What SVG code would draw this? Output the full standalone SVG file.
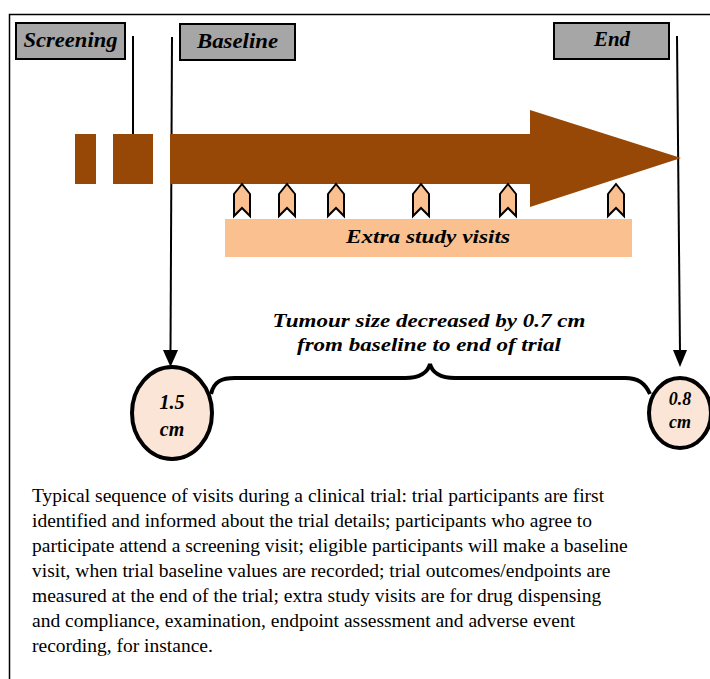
<svg xmlns="http://www.w3.org/2000/svg" width="710" height="679" viewBox="0 0 710 679">
<style>
.lbl{font-family:"Liberation Serif",serif;font-weight:bold;font-style:italic;fill:#000}
.box{fill:#A6A6A6;stroke:#000;stroke-width:2}
.brown{fill:#974806}
.chev{fill:#FAC090;stroke:#000;stroke-width:2;stroke-linejoin:miter}
.circ{fill:#FBE5D6;stroke:#000;stroke-width:4}
.ln{stroke:#000;stroke-width:2;fill:none}
.body{font-family:"Liberation Serif",serif;font-size:19.5px;fill:#000}
</style>
<rect x="9.5" y="14.5" width="720" height="700" fill="#fff" stroke="#000" stroke-width="1.5"/>

<g id="connectors">
<line class="ln" x1="133" y1="36" x2="133" y2="136"/>
<line class="ln" x1="172" y1="37" x2="170.5" y2="352"/>
<polygon points="163,350 178,350 170.5,367" fill="#000"/>
<line class="ln" x1="677" y1="36" x2="680" y2="352"/>
<polygon points="673,350 687,350 680,367" fill="#000"/>
</g>

<g id="timeline">
<rect class="brown" x="75" y="134" width="21" height="50"/>
<rect class="brown" x="113" y="134" width="40" height="50"/>
<polygon class="brown" points="170,134 530,134 530,110 681,158 530,207 530,184 170,184"/>
</g>

<g id="screening">
<rect class="box" x="16" y="23" width="109" height="36"/>
<text class="lbl" x="70.5" y="47" font-size="21" text-anchor="middle" textLength="94" lengthAdjust="spacingAndGlyphs">Screening</text>
</g>
<g id="baseline">
<rect class="box" x="180" y="24" width="115" height="36"/>
<text class="lbl" x="237.5" y="48" font-size="21" text-anchor="middle" textLength="81" lengthAdjust="spacingAndGlyphs">Baseline</text>
</g>
<g id="end">
<rect class="box" x="554" y="23" width="115" height="36"/>
<text class="lbl" x="612" y="46" font-size="21" text-anchor="middle" textLength="36" lengthAdjust="spacingAndGlyphs">End</text>
</g>

<g id="visits">
<path class="chev" d="M242,184 L250,194 L250,216 L242,208 L234,216 L234,194 Z"/>
<path class="chev" d="M287,184 L295,194 L295,216 L287,208 L279,216 L279,194 Z"/>
<path class="chev" d="M336,184 L344,194 L344,216 L336,208 L328,216 L328,194 Z"/>
<path class="chev" d="M421,184 L429,194 L429,216 L421,208 L413,216 L413,194 Z"/>
<path class="chev" d="M508,184 L516,194 L516,216 L508,208 L500,216 L500,194 Z"/>
<path class="chev" d="M616,184 L624,194 L624,216 L616,208 L608,216 L608,194 Z"/>
</g>
<g id="extra-visits">
<rect x="225" y="219" width="407" height="38" fill="#FAC090"/>
<text class="lbl" x="428" y="243" font-size="19" text-anchor="middle" textLength="164" lengthAdjust="spacingAndGlyphs">Extra study visits</text>
</g>

<g id="change-label">
<text class="lbl" x="429" y="327" font-size="18.5" text-anchor="middle" textLength="313" lengthAdjust="spacingAndGlyphs">Tumour size decreased by 0.7 cm</text>
<text class="lbl" x="429" y="351" font-size="18.5" text-anchor="middle" textLength="264" lengthAdjust="spacingAndGlyphs">from baseline to end of trial</text>
</g>

<g id="brace">
<path d="M211,394 C214,381 222,378 235,378 L405,378 C420,378 428,372 430,364 C432,372 440,378 455,378 L625,378 C638,378 645,383 650,394" fill="none" stroke="#000" stroke-width="4"/>
</g>

<g id="baseline-size">
<ellipse class="circ" cx="172" cy="413" rx="40" ry="46"/>
<text class="lbl" x="172" y="409" font-size="20" text-anchor="middle">1.5</text>
<text class="lbl" x="172" y="436" font-size="20" text-anchor="middle">cm</text>
</g>
<g id="end-size">
<ellipse class="circ" cx="680" cy="413" rx="31" ry="35"/>
<text class="lbl" x="680" y="405" font-size="18" text-anchor="middle">0.8</text>
<text class="lbl" x="680" y="428" font-size="18" text-anchor="middle">cm</text>
</g>

<g id="caption" class="body">
<text x="32" y="502">Typical sequence of visits during a clinical trial: trial participants are first</text>
<text x="32" y="527">identified and informed about the trial details; participants who agree to</text>
<text x="32" y="552">participate attend a screening visit; eligible participants will make a baseline</text>
<text x="32" y="577">visit, when trial baseline values are recorded; trial outcomes/endpoints are</text>
<text x="32" y="602">measured at the end of the trial; extra study visits are for drug dispensing</text>
<text x="32" y="627">and compliance, examination, endpoint assessment and adverse event</text>
<text x="32" y="652">recording, for instance.</text>
</g>
</svg>
